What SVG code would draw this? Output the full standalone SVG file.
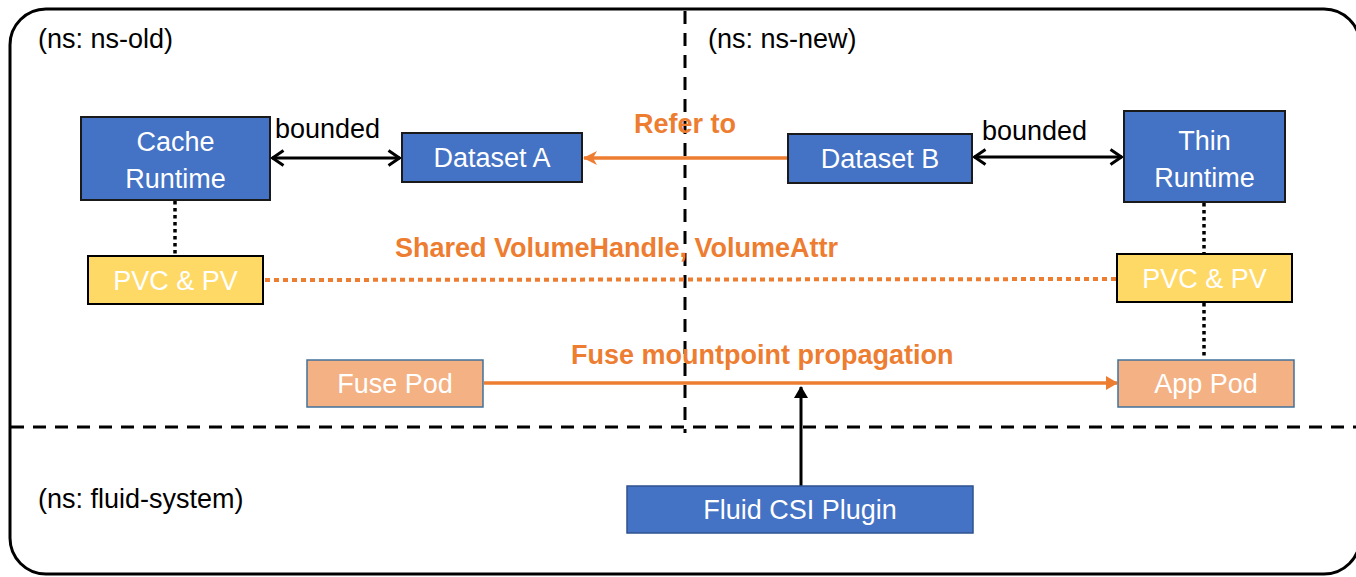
<svg xmlns="http://www.w3.org/2000/svg" width="1356" height="577" viewBox="0 0 1356 577">
<style>
text{font-family:"Liberation Sans",Arial,sans-serif}
.lbl{font-size:27px;fill:#000}
.org{font-size:27px;font-weight:bold;fill:#ED7D31}
.bt{font-size:27px;fill:#fff;text-anchor:middle}
.blue{fill:#4472C4;stroke:#1a1a1a;stroke-width:2}
.csi{fill:#4472C4;stroke:#2F528F;stroke-width:1.5}
.yel{fill:#FFD966;stroke:#000;stroke-width:2}
.pod{fill:#F4B183;stroke:#41719C;stroke-width:1.5}
.dash{stroke:#000;stroke-width:3;stroke-dasharray:13 9;fill:none}
.dot{stroke:#000;stroke-width:3.5;stroke-dasharray:3.5 3.5;fill:none}
</style>
<defs>
<marker id="open" viewBox="0 0 14 18" refX="13" refY="9" markerWidth="14" markerHeight="18" markerUnits="userSpaceOnUse" orient="auto-start-reverse">
<path d="M1.5,1.5 L12.5,9 L1.5,16.5" fill="none" stroke="#000" stroke-width="3"/>
</marker>
<marker id="oarr" viewBox="0 0 14 14" refX="13" refY="7" markerWidth="14" markerHeight="14" markerUnits="userSpaceOnUse" orient="auto">
<path d="M0,0 L14,7 L0,14 L4,7 Z" fill="#ED7D31"/>
</marker>
<marker id="otri" viewBox="0 0 12 14" refX="11" refY="7" markerWidth="12" markerHeight="14" markerUnits="userSpaceOnUse" orient="auto">
<path d="M0,0 L12,7 L0,14 Z" fill="#ED7D31"/>
</marker>
<marker id="btri" viewBox="0 0 12 14" refX="11" refY="7" markerWidth="12" markerHeight="14" markerUnits="userSpaceOnUse" orient="auto">
<path d="M0,0 L12,7 L0,14 Z" fill="#000"/>
</marker>
</defs>
<rect width="1356" height="577" fill="#fff"/>
<rect x="10" y="9" width="1350" height="565" rx="36" ry="36" fill="none" stroke="#000" stroke-width="3"/>
<g id="dividers">
<line class="dash" x1="685" y1="11" x2="685" y2="433"/>
<line class="dash" x1="11" y1="427" x2="1356" y2="427"/>
</g>
<g id="ns-labels">
<text class="lbl" x="38" y="48">(ns: ns-old)</text>
<text class="lbl" x="708" y="48">(ns: ns-new)</text>
<text class="lbl" x="38" y="508">(ns: fluid-system)</text>
</g>
<g id="connectors">
<line x1="272" y1="158" x2="400" y2="158" stroke="#000" stroke-width="2.8" marker-start="url(#open)" marker-end="url(#open)"/>
<text class="lbl" x="275" y="138">bounded</text>
<line x1="974" y1="157" x2="1122" y2="157" stroke="#000" stroke-width="2.8" marker-start="url(#open)" marker-end="url(#open)"/>
<text class="lbl" x="982" y="140">bounded</text>
<line x1="788" y1="158" x2="584" y2="158" stroke="#ED7D31" stroke-width="3.5" marker-end="url(#oarr)"/>
<text class="org" x="634" y="133">Refer to</text>
<line class="dot" x1="175" y1="201" x2="175" y2="255"/>
<line class="dot" x1="1204" y1="203" x2="1204" y2="253"/>
<line class="dot" x1="1204" y1="303" x2="1204" y2="358"/>
<line x1="265" y1="280" x2="1116" y2="279" stroke="#ED7D31" stroke-width="4" stroke-dasharray="5 4"/>
<text class="org" x="395" y="257">Shared VolumeHandle, VolumeAttr</text>
<line x1="484" y1="383" x2="1117" y2="383" stroke="#ED7D31" stroke-width="3.5" marker-end="url(#otri)"/>
<text class="org" x="571" y="364">Fuse mountpoint propagation</text>
<line x1="801" y1="486" x2="801" y2="387" stroke="#000" stroke-width="3" marker-end="url(#btri)"/>
</g>
<g id="cache-runtime">
<rect class="blue" x="81" y="117" width="189" height="83"/>
<text class="bt" x="175.5" y="151">Cache</text>
<text class="bt" x="175.5" y="188">Runtime</text>
</g>
<g id="dataset-a">
<rect class="blue" x="402" y="133" width="180" height="49"/>
<text class="bt" x="492" y="167">Dataset A</text>
</g>
<g id="dataset-b">
<rect class="blue" x="788" y="134" width="184" height="49"/>
<text class="bt" x="880" y="168">Dataset B</text>
</g>
<g id="thin-runtime">
<rect class="blue" x="1124" y="111" width="161" height="91"/>
<text class="bt" x="1204.5" y="150">Thin</text>
<text class="bt" x="1204.5" y="187">Runtime</text>
</g>
<g id="pvc-old">
<rect class="yel" x="88" y="256" width="175" height="48"/>
<text class="bt" x="175.5" y="290">PVC &amp; PV</text>
</g>
<g id="pvc-new">
<rect class="yel" x="1117" y="254" width="175" height="48"/>
<text class="bt" x="1204.5" y="288">PVC &amp; PV</text>
</g>
<g id="fuse-pod">
<rect class="pod" x="307" y="360" width="176" height="47"/>
<text class="bt" x="395" y="393">Fuse Pod</text>
</g>
<g id="app-pod">
<rect class="pod" x="1118" y="360" width="176" height="47"/>
<text class="bt" x="1206" y="393">App Pod</text>
</g>
<g id="fluid-csi">
<rect class="csi" x="627" y="486" width="346" height="47"/>
<text class="bt" x="800" y="519">Fluid CSI Plugin</text>
</g>
</svg>
